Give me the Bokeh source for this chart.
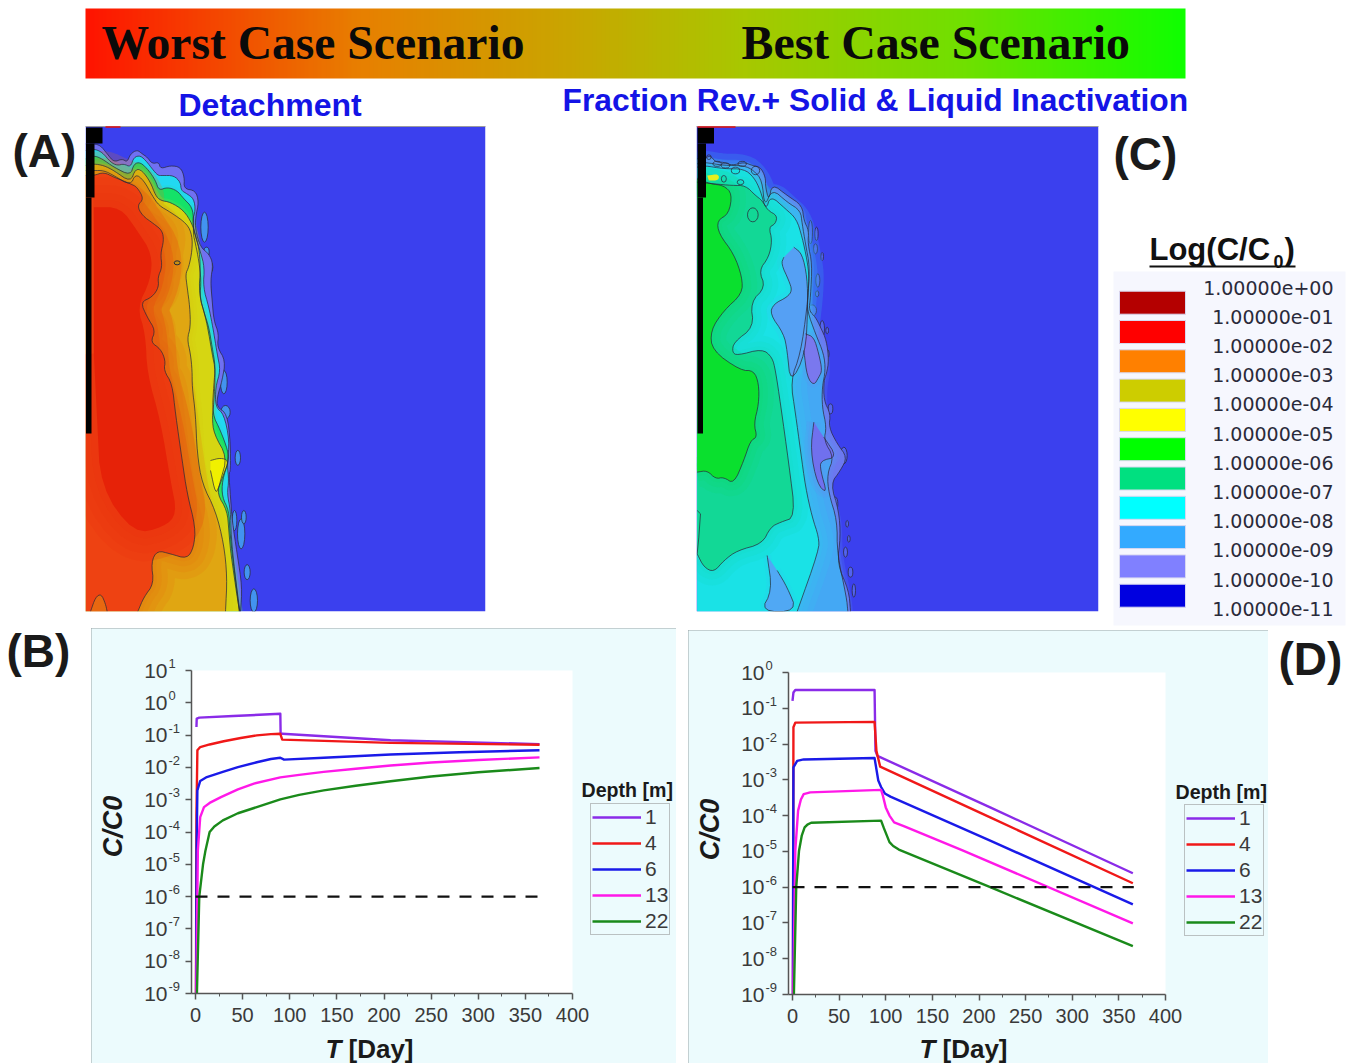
from bokeh.plotting import figure
from bokeh.layouts import column, row, Spacer
from bokeh.models import (Range1d, FixedTicker, Legend, LegendItem, CustomJSTickFormatter)
from bokeh.core.properties import value
from bokeh.embed import file_html
from bokeh.resources import INLINE
import numpy as np

# ---------- line chart data (T [day], C/C0 as log10) ----------
DEPTHS = ["1", "4", "6", "13", "22"]
LINE_COLORS = ["#8a2be8", "#f01818", "#1a1ae8", "#ff18e8", "#1a8a1a"]

B_T = [
    [1, 1.3, 4, 40, 90, 90.3, 92, 207, 365],
    [0.5, 1, 2, 5, 15, 30, 48, 65, 80, 90, 92, 207, 365],
    [0.6, 1.2, 2, 5, 12, 29, 45, 65, 80, 90, 94, 136, 207, 280, 365],
    [0.8, 2.5, 5, 9, 15, 27, 45, 62, 90, 110, 136, 170, 207, 250, 300, 365],
    [1.5, 4, 8, 10.6, 15, 20, 29, 45, 65, 90, 110, 136, 170, 207, 250, 300, 365],
]
B_LOG = [
    [-0.75, -0.49, -0.46, -0.41, -0.34, -0.94, -0.96, -1.16, -1.28],
    [-9, -3.5, -1.47, -1.37, -1.29, -1.19, -1.09, -1.01, -0.97, -0.96, -1.14, -1.24, -1.3],
    [-9, -4.5, -2.71, -2.42, -2.30, -2.14, -1.99, -1.84, -1.74, -1.70, -1.76, -1.70, -1.60, -1.53, -1.47],
    [-9, -4.57, -3.54, -3.23, -3.10, -2.92, -2.68, -2.50, -2.31, -2.23, -2.14, -2.04, -1.94, -1.85, -1.77, -1.69],
    [-9, -6, -5, -4.57, -4.0, -3.83, -3.64, -3.42, -3.23, -2.99, -2.85, -2.71, -2.57, -2.43, -2.28, -2.15, -2.02],
]
D_T = [
    [0, 1, 3, 88, 89, 91, 212, 365],
    [0.5, 1, 3, 88, 90, 94, 212, 365],
    [0.4, 1, 5, 12, 88, 92, 95, 99, 105, 212, 365],
    [0.8, 3, 6, 9, 12, 19, 95, 97, 100, 104, 109, 120, 183, 365],
    [1.5, 4, 7, 10, 13, 16, 20, 95, 98, 104, 108, 114, 212, 365],
]
D_LOG = [
    [-0.79, -0.56, -0.49, -0.49, -2.19, -2.33, -3.77, -5.61],
    [-9, -1.53, -1.40, -1.38, -2.19, -2.63, -4.05, -5.89],
    [-9, -2.65, -2.47, -2.43, -2.39, -3.02, -3.20, -3.38, -3.47, -4.70, -6.48],
    [-9, -4.98, -3.86, -3.55, -3.40, -3.35, -3.28, -3.45, -3.77, -4.00, -4.19, -4.30, -4.98, -7.01],
    [-9, -6, -4.98, -4.55, -4.33, -4.25, -4.20, -4.14, -4.35, -4.74, -4.85, -4.95, -6.0, -7.65],
]
THRESHOLD = 1e-6
B_EXPONENTS = [1, 0, -1, -2, -3, -4, -5, -6, -7, -8, -9]
D_EXPONENTS = [0, -1, -2, -3, -4, -5, -6, -7, -8, -9]
T_TICKS = [0, 50, 100, 150, 200, 250, 300, 350, 400]
T_MINOR = [25, 75, 125, 175, 225, 275, 325, 375]

# ---------- colour legend ----------
SCALE_COLORS = ["#b40000", "#ff0000", "#ff8000", "#cdcd00", "#ffff00", "#00ff00",
                "#00e080", "#00ffff", "#33aaff", "#8080ff", "#0000e0"]
SCALE_LABELS = ["1.00000e+00", "1.00000e-01", "1.00000e-02", "1.00000e-03", "1.00000e-04",
                "1.00000e-05", "1.00000e-06", "1.00000e-07", "1.00000e-08", "1.00000e-09",
                "1.00000e-10", "1.00000e-11"]

# ---------- contour fields, traced on a 3x grid of each map ----------
A_OUTER = [(15,70),(40,70),(60,75),(80,100),(100,125),(125,115),(140,125),(150,100),(170,88),(185,100),(200,110),(215,130),(235,125),(240,145),(270,135),(300,140),(312,170),(310,205),(345,210),(355,245),(345,290),(345,330),(360,380),(385,400),(398,430),(390,480),(395,540),(400,600),(415,640),(410,680),(435,720),(425,780),(410,830),(410,860),(440,880),(450,970),(450,1050),(445,1060),(450,1130),(455,1200),(470,1300),(485,1400),(480,1473)]
A_CYAN = [(15,90),(40,85),(65,95),(90,125),(110,135),(130,130),(150,140),(160,110),(180,105),(200,125),(215,145),(232,165),(245,165),(280,165),(300,185),(302,210),(320,220),(340,235),(345,270),(335,300),(345,350),(360,395),(372,440),(368,500),(385,560),(395,610),(402,650),(410,700),(420,750),(405,800),(405,860),(430,880),(447,960),(440,1030),(445,1080),(440,1120),(450,1170),(452,1250),(462,1350),(478,1473)]
A_GREEN = [(15,115),(40,105),(65,115),(100,140),(150,165),(160,130),(180,125),(205,150),(225,180),(235,210),(260,200),(290,210),(310,235),(335,260),(340,300),(338,340),(345,370),(355,420),(362,480),(358,530),(372,580),(385,620),(395,680),(405,740),(400,790),(395,880),(420,930),(442,990),(445,1020),(425,1080),(425,1130),(445,1170),(448,1230),(455,1300),(468,1400),(476,1473)]
A_YELLOW = [(15,135),(40,130),(70,135),(100,150),(150,185),(165,145),(185,150),(210,185),(225,225),(240,240),(270,245),(310,270),(335,310),(345,345),(355,380),(360,440),(355,520),(375,590),(385,640),(395,700),(405,750),(400,850),(395,890),(400,940),(440,1010),(420,1080),(410,1120),(440,1170),(445,1230),(450,1290),(460,1360),(470,1430),(478,1473)]
A_ORANGE = [(15,150),(40,150),(70,150),(100,165),(150,195),(165,160),(190,180),(215,225),(235,255),(270,275),(320,310),(335,345),(335,390),(325,440),(315,460),(320,500),(328,560),(330,620),(320,655),(330,700),(335,750),(335,800),(345,880),(350,1000),(365,1090),(405,1170),(430,1270),(440,1370),(435,1473)]
A_RED = [(15,165),(40,165),(70,155),(100,170),(150,190),(170,200),(190,235),(170,255),(185,285),(220,310),(245,330),(250,360),(240,400),(245,440),(232,470),(235,500),(215,530),(180,545),(200,590),(225,630),(210,665),(240,685),(255,720),(250,750),(275,790),(285,880),(305,1020),(320,1120),(345,1220),(340,1280),(320,1315),(270,1300),(230,1290),(212,1325),(220,1390),(190,1430),(172,1473)]
A_CORE = [(40,260),(120,260),(170,330),(215,400),(210,480),(170,560),(195,640),(200,760),(240,900),(270,1080),(290,1180),(250,1220),(160,1240),(60,1100),(50,900),(40,700)]
A_FOOT = [(30,1473),(45,1430),(62,1420),(75,1450),(80,1473)]
A_POCKET = [(390,1020),(420,1012),(445,1020),(430,1060),(415,1100),(405,1120),(390,1050)]
A_ISLES = [(372,320,22,90),(378,395,16,30),(392,440,10,30),(385,510,12,60),(430,785,20,70),(435,875,28,40),
           (472,1012,16,45),(482,1240,22,90),(462,1200,14,60),(500,1355,18,45),(520,1440,22,70),(490,1190,14,40)]

C_OUTER = [(20,115),(40,115),(60,105),(75,125),(100,125),(125,135),(160,125),(185,135),(210,140),(225,170),(225,200),(235,240),(245,190),(290,225),(335,255),(340,300),(355,330),(352,370),(365,430),(360,530),(355,570),(375,590),(390,620),(408,660),(415,720),(408,760),(400,780),(400,840),(420,880),(415,920),(440,970),(470,1010),(450,1050),(420,1090),(445,1170),(450,1250),(440,1330),(475,1410),(480,1473)]
C_LIGHT = [(20,130),(40,125),(100,135),(160,135),(190,150),(215,180),(222,260),(245,205),(290,245),(330,270),(335,310),(345,370),(358,440),(352,530),(350,570),(375,640),(400,700),(405,750),(395,800),(395,860),(408,920),(400,960),(430,1010),(410,1060),(415,1120),(440,1200),(440,1300),(468,1430),(472,1473)]
C_CYAN = [(20,140),(40,135),(100,145),(160,145),(190,170),(210,210),(226,270),(240,225),(285,265),(318,295),(335,350),(350,420),(356,470),(350,560),(330,700),(300,780),(315,880),(330,990),(345,1100),(365,1190),(385,1250),(385,1290),(320,1473)]
C_POCKET1 = [(310,380),(335,400),(350,470),(352,560),(345,700),(300,790),(290,690),(280,640),(238,580),(250,550),(290,530),(305,510),(295,480),(272,430),(280,410)]
C_POCKET2 = [(230,1305),(245,1410),(210,1473),(320,1473),(290,1400),(260,1350)]
C_POCKET3 = [(345,640),(370,650),(385,700),(395,750),(385,770),(370,795),(350,770),(340,690)]
C_POCKET4 = [(370,905),(360,990),(380,1090),(410,1120),(390,1050),(390,1020),(440,1010),(400,950)]
C_TEAL = [(20,185),(70,190),(125,195),(165,195),(195,225),(215,240),(232,270),(260,285),(255,310),(235,320),(245,360),(235,410),(205,450),(225,500),(180,545),(190,620),(130,665),(125,695),(140,705),(215,685),(245,710),(255,750),(270,850),(295,1030),(315,1190),(270,1205),(240,1220),(215,1270),(140,1290),(100,1320),(70,1355),(40,1340),(20,1300)]
C_LIME = [(20,175),(60,190),(100,195),(125,220),(115,280),(80,300),(85,340),(130,400),(155,470),(155,520),(100,570),(60,630),(65,690),(150,750),(190,750),(205,790),(205,850),(190,910),(200,950),(180,960),(160,1020),(130,1090),(100,1070),(75,1075),(50,1050),(20,1055)]
C_SPARK = [(50,165),(85,160),(85,180),(55,180)]
C_EDGE = [(20,1170),(30,1180),(25,1250),(20,1300)]
C_CELLS = [(55,110,14,14),(80,130,25,15),(105,135,25,15),(135,150,25,20),(150,185,20,15),(100,175,15,20),(155,130,25,15),(195,150,25,25),(187,283,32,42)]
C_ISLES = [(360,335,12,70),(378,340,10,40),(375,385,12,30),(395,408,8,24),(382,480,12,40),(380,520,10,18),(365,570,26,34),
           (395,625,14,50),(410,630,8,20),(400,670,14,24),(410,700,12,26),(420,865,14,30),(460,1005,20,50),(435,1150,14,40),
           (470,1210,8,20),(475,1255,8,20),(465,1295,12,30),(480,1355,14,30),(490,1410,10,40)]

OX_A, OX_C, OY, SCALE = 80, 690, 120, 3.0
BOTTOM = 1473


def grid_xy(points, ox):
    xs = [ox + pt[0] / SCALE for pt in points]
    ys = [OY + pt[1] / SCALE for pt in points]
    return xs, ys


def rounded(points, passes=2):
    """Chaikin corner cutting of a traced boundary (its ends stay put)."""
    pts = [(p[0], p[1]) for p in points]
    for _ in range(passes):
        out = [pts[0]]
        for a, b in zip(pts[:-1], pts[1:]):
            out.append((0.75 * a[0] + 0.25 * b[0], 0.75 * a[1] + 0.25 * b[1]))
            out.append((0.25 * a[0] + 0.75 * b[0], 0.25 * a[1] + 0.75 * b[1]))
        out.append(pts[-1])
        pts = out
    return pts


PAGE_W, TOP_H = 1357, 628
top = figure(width=PAGE_W, height=TOP_H, x_range=Range1d(0, PAGE_W), y_range=Range1d(TOP_H, 0),
             x_axis_type=None, y_axis_type=None, toolbar_location=None, output_backend="svg",
             min_border=0, outline_line_color=None, background_fill_color="white", border_fill_color="white")
top.grid.visible = False


def region(points, ox, zleft, fill, soft=None, widths=(), close_left=True):
    xs, ys = grid_xy(rounded(points), ox)
    fx, fy = list(xs), list(ys)
    if close_left and points[-1][1] >= BOTTOM:
        lx, ly = grid_xy([(zleft, BOTTOM)], ox)
        fx += lx
        fy += ly
    for w in widths:
        top.line(xs, ys, line_color=soft or fill, line_width=w, line_alpha=0.2, line_join="round")
    top.patch(fx, fy, fill_color=fill, line_color=None)
    return xs, ys


def contour_lines(lines):
    for xs, ys in lines:
        top.line(xs, ys, line_color="#2a2a3a", line_width=1, line_alpha=0.72, line_join="round")


def isles(items, ox, fill):
    xs, ys = grid_xy(items, ox)
    top.ellipse(xs, ys, width=[it[2] / SCALE for it in items], height=[it[3] / SCALE for it in items],
                fill_color=fill, line_color="#2a2a3a", line_width=1, line_alpha=0.75, fill_alpha=0.8)


BLUE = "#3b40ee"
# panel A
top.quad(left=[85], right=[485], top=[126], bottom=[611], fill_color=BLUE, line_color=None)
isles(A_ISLES, OX_A, "#45a8f0")
ls = []
ls.append(region(A_OUTER, OX_A, 15, "#7070f2"))
ls.append(region(A_CYAN, OX_A, 15, "#22d8f2"))
ls.append(region(A_GREEN, OX_A, 15, "#14e268", soft="#22e0b0", widths=(6,)))
ls.append(region(A_YELLOW, OX_A, 15, "#d6d612", soft="#80e040", widths=(6,)))
ls.append(region(A_ORANGE, OX_A, 15, "#e0a612", soft="#d8c810", widths=(14, 8)))
ls.append(region(A_RED, OX_A, 15, "#ee4212", soft="#e87a10", widths=(44, 30, 18, 8)))
region(A_CORE, OX_A, 15, "#e62208", soft="#ea3210", widths=(60, 44, 28, 14), close_left=False)
ls.append(region(A_FOOT, OX_A, 15, "#e86810", close_left=False))
ls.append(region(A_POCKET, OX_A, 15, "#f0f000", close_left=False))
contour_lines(ls)
top.ellipse(grid_xy([(290, 427)], OX_A)[0], grid_xy([(290, 427)], OX_A)[1], width=6, height=4,
            fill_color="#c89010", line_color="#2a2a3a", line_width=1)

# panel C
top.quad(left=[696], right=[1098], top=[126], bottom=[611], fill_color=BLUE, line_color=None)
isles(C_ISLES, OX_C, "#5a6cf0")
ls = []
ls.append(region(C_OUTER, OX_C, 20, "#6c78f0"))
ls.append(region(C_LIGHT, OX_C, 20, "#44a8f4", soft="#5a90f2", widths=(10, 5)))
ls.append(region(C_CYAN, OX_C, 20, "#1ae2e6", soft="#30c8f0", widths=(30, 18, 8)))
ls.append(region(C_POCKET1, OX_C, 20, "#55a0f4", soft="#38c8f0", widths=(10,), close_left=False))
ls.append(region(C_POCKET2, OX_C, 20, "#50a8f4", soft="#30c8f0", widths=(8,), close_left=False))
ls.append(region(C_POCKET3, OX_C, 20, "#7a78ee", soft="#6090f0", widths=(8,), close_left=False))
ls.append(region(C_POCKET4, OX_C, 20, "#7070ee", soft="#6090f0", widths=(14, 8), close_left=False))
ls.append(region(C_TEAL, OX_C, 20, "#12d896", soft="#16dcc0", widths=(30, 18, 8), close_left=False))
ls.append(region(C_LIME, OX_C, 20, "#0ae02e", soft="#10dc70", widths=(30, 18, 8), close_left=False))
region(C_SPARK, OX_C, 20, "#e6f020", close_left=False)
ls.append(grid_xy(C_EDGE, OX_C))
contour_lines(ls)
xs, ys = grid_xy(C_CELLS, OX_C)
top.ellipse(xs, ys, width=[c[2] / SCALE for c in C_CELLS], height=[c[3] / SCALE for c in C_CELLS],
            fill_color=None, line_color="#2a2a3a", line_width=1, line_alpha=0.75)

# white surrounds keep the soft edges inside the maps
top.quad(left=[0, 485, 1098, 0, 0], right=[85, 696, PAGE_W, PAGE_W, PAGE_W], top=[0, 0, 0, 0, 611],
         bottom=[TOP_H, TOP_H, TOP_H, 126, TOP_H], fill_color="white", line_color=None)

# black wells and the thin top edge
for x0 in (85.5, 697):
    top.quad(left=[x0, x0, x0], right=[x0 + 16.5, x0 + 8.5, x0 + 5.5], top=[127, 143, 197],
             bottom=[143, 197, 433], fill_color="#000000", line_color=None)
top.segment(x0=[85, 696], y0=[126, 126], x1=[485, 1098], y1=[126, 126], line_color="#9a9aa0", line_width=1)
top.segment(x0=[105, 697], y0=[126.5, 126.5], x1=[120, 735], y1=[126.5, 126.5], line_color="#e01010", line_width=1.5)

# banner
stops = np.array([0, .25, .45, .6, .8, 1.0])
r = [255, 232, 200, 168, 112, 16]
g = [20, 128, 168, 200, 224, 255]
n = 256
t = np.linspace(0, 1, n)
rgba = np.zeros((1, n), dtype=np.uint32)
view = rgba.view(np.uint8).reshape((1, n, 4))
view[0, :, 0] = np.interp(t, stops, r)
view[0, :, 1] = np.interp(t, stops, g)
view[0, :, 3] = 255
top.image_rgba(image=[rgba], x=85, y=8, dw=1100, dh=70)


def txt(x, y, s, size, font="Liberation Sans", style="bold", color="#111111", align="left", base="middle"):
    top.text([x], [y], text=[s], text_font=value(font), text_font_size=f"{size}px", text_font_style=style,
             text_color=color, text_align=align, text_baseline=base)


txt(101, 42, "Worst Case Scenario", 47.6, font="Liberation Serif", color="#0a0a0a")
txt(741, 42, "Best Case Scenario", 47.9, font="Liberation Serif", color="#0a0a0a")
txt(178, 104, "Detachment", 32, color="#1414e6")
txt(562, 99, "Fraction Rev.+ Solid & Liquid Inactivation", 31.8, color="#1414e6")
txt(12, 150, "(A)", 46, color="#1a1a1a")
txt(1113, 153, "(C)", 46, color="#1a1a1a")

# colour scale
top.quad(left=[1113], right=[1345], top=[271], bottom=[625], fill_color="#f6f7fe", line_color=None)
n_sw = len(SCALE_COLORS)
sw_y = [290.7 + 29.3 * i for i in range(n_sw)]
top.quad(left=[1119] * n_sw, right=[1185] * n_sw, top=sw_y, bottom=[y + 23 for y in sw_y],
         fill_color=SCALE_COLORS, line_color="#d8d8f0", line_width=1)
for i, s in enumerate(SCALE_LABELS):
    txt(1333, 287 + 29.2 * i, s, 19, font="DejaVu Sans", style="normal", color="#2a2a3a", align="right")
txt(1149, 249, "Log(C/C", 31, color="#111111")
txt(1273, 261, "0", 18, color="#111111")
txt(1284, 249, ")", 31, color="#111111")
top.segment(x0=[1149], y0=[266], x1=[1295], y1=[266], line_color="#111111", line_width=2)

PANEL = "#ecfbfd"
GRAY = "#9aa4a6"
TICKC = "#555555"
TEXTC = "#3a3a3a"
DARK = "#1a1a1a"
PAGE_H = 1063


def chart(px_left, px_right, px_top, x_zero, x_scale, axis_x, y_top_px, y_top_exp, decade, T, LOG, exps,
          legend_at, depth_at, clabel, tx, dayx, labely):
    to_t = lambda px: (px - x_zero) / x_scale
    to_c = lambda py: 10.0 ** (y_top_exp - (py - y_top_px) / decade)
    ymin, ymax = 1e-9, 10.0 ** y_top_exp
    tmin = to_t(axis_x)
    p = figure(width=px_right - px_left, height=PAGE_H - px_top,
               x_range=Range1d(to_t(px_left), to_t(px_right)), y_range=Range1d(to_c(PAGE_H), to_c(px_top)),
               y_axis_type="log", toolbar_location=None, output_backend="svg", min_border=0,
               outline_line_color=None, background_fill_color=PANEL, border_fill_color=PANEL,
               styles={"outline": f"1.5px solid {GRAY}", "outline-offset": "-1.5px"})
    p.grid.visible = False
    p.quad(left=[tmin], right=[400], bottom=[ymin], top=[ymax], fill_color="white", line_color=None)

    p.xaxis.ticker = FixedTicker(ticks=T_TICKS, minor_ticks=T_MINOR)
    p.yaxis.ticker = FixedTicker(ticks=[10.0 ** k for k in exps], minor_ticks=[])
    p.xaxis.fixed_location = ymin
    p.yaxis.fixed_location = tmin
    p.xaxis.bounds = (tmin, 400)
    p.yaxis.bounds = (ymin, ymax)
    p.yaxis.formatter = CustomJSTickFormatter(code="return '10'")
    for ax in (p.xaxis, p.yaxis):
        ax.axis_line_color = TICKC
        ax.axis_line_width = 1.5
        ax.major_tick_line_color = TICKC
        ax.major_tick_line_width = 1.5
        ax.major_tick_in = 0
        ax.major_tick_out = 6
        ax.minor_tick_line_color = TICKC
        ax.minor_tick_in = 0
        ax.minor_tick_out = 3
        ax.major_label_text_font = "Liberation Sans"
        ax.major_label_text_color = TEXTC
    p.xaxis.major_label_text_font_size = "20px"
    p.xaxis.major_label_standoff = 8
    p.yaxis.major_label_text_font_size = "21px"
    p.yaxis.major_label_standoff = 18
    p.yaxis.major_label_orientation = "horizontal"

    p.text([to_t(axis_x - 23)] * len(exps), [10.0 ** k for k in exps], text=[str(k) for k in exps],
           text_font=value("Liberation Sans"), text_font_size="13px", text_color=TEXTC,
           text_align="left", text_baseline="middle", y_offset=-7)

    items = []
    for s, tv, lv, c in zip(DEPTHS, T, LOG, LINE_COLORS):
        r_ = p.line(tv, [10.0 ** v for v in lv], line_color=c, line_width=2.4, line_join="round")
        items.append(LegendItem(label=s, renderers=[r_]))
    p.line([0, 366], [THRESHOLD, THRESHOLD], line_color="#111111", line_width=2.2, line_dash="12 10")

    leg = Legend(items=items, location=(legend_at[0] - px_left, PAGE_H - legend_at[1]), orientation="vertical",
                 background_fill_color=PANEL, background_fill_alpha=1, border_line_color="#888888",
                 border_line_width=1.5, margin=0, padding=1, spacing=2, glyph_width=49, glyph_height=20,
                 label_height=20, label_standoff=4, label_text_font="Liberation Sans",
                 label_text_font_size="21px", label_text_color=TEXTC)
    p.add_layout(leg)

    def note(px, py, s, size, style, angle=0.0, align="left"):
        p.text([to_t(px)], [to_c(py)], text=[s], text_font=value("Liberation Sans"), text_font_style=style,
               text_font_size=size, text_color=DARK, text_align=align, text_baseline="middle", angle=angle)

    note(depth_at[0], depth_at[1], "Depth [m]", "19.6px", "bold")
    note(clabel[0], clabel[1], "C/C0", "27px", "bold italic", angle=np.pi / 2, align="center")
    note(tx, labely, "T", "26px", "bold italic")
    note(dayx, labely, "[Day]", "26px", "bold")
    return p


def letter(text, width, height, x, y):
    f = figure(width=width, height=height, x_range=Range1d(0, width), y_range=Range1d(height, 0),
               x_axis_type=None, y_axis_type=None, toolbar_location=None, output_backend="svg",
               min_border=0, outline_line_color=None, background_fill_color="white", border_fill_color="white")
    f.grid.visible = False
    f.text([x], [y], text=[text], text_font=value("Liberation Sans"), text_font_style="bold",
           text_font_size="46px", text_color=DARK, text_align="left", text_baseline="middle")
    return f


Y0 = 628
left_fig = letter("(B)", 91, 447, 6, 650 - Y0 + 12)
left_fig.margin = (-12, 0, 0, 0)
fig_b = chart(91, 676, 628, 195, 0.9425, 191, 670, 1, 32.3, B_T, B_LOG, B_EXPONENTS,
              legend_at=(590, 935), depth_at=(581, 789), clabel=(112, 826),
              tx=325, dayx=348, labely=1048)
gap = Spacer(width=12, height=435)
fig_d = chart(688, 1268, 630, 792, 0.9325, 788, 672, 0, 35.78, D_T, D_LOG, D_EXPONENTS,
              legend_at=(1184, 936), depth_at=(1175, 791), clabel=(709, 829),
              tx=919, dayx=942, labely=1048)
fig_d.margin = (2, 0, 0, 0)
right_fig = letter("(D)", 89, 435, 10, 658 - Y0)

page = column(top, row(left_fig, fig_b, gap, fig_d, right_fig, spacing=0), spacing=0)
open("out.html", "w").write(file_html(page, INLINE))
